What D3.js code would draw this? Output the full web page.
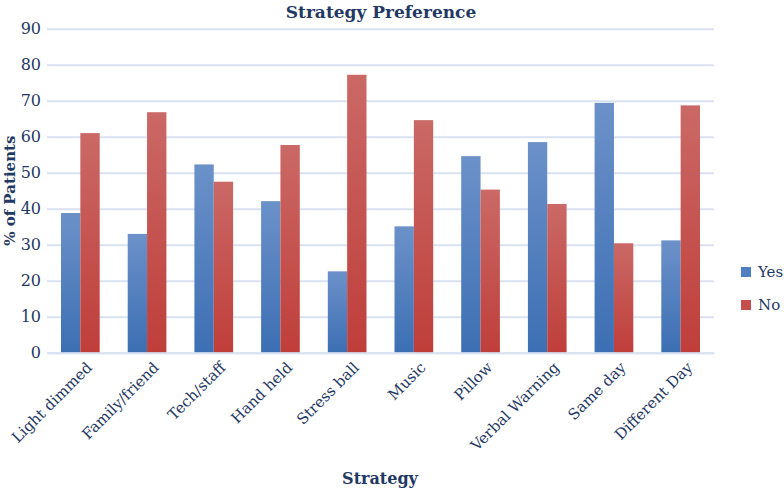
<!DOCTYPE html>
<html><head><meta charset="utf-8">
<script src="https://cdn.jsdelivr.net/npm/d3@7"></script>
<style>body{margin:0;background:#fff;} text{font-family:"DejaVu Serif","Liberation Serif",serif;}</style>
</head><body>
<svg id="c" width="784" height="489"></svg>
<script>
const categories = ["Light dimmed","Family/friend","Tech/staff","Hand held","Stress ball","Music","Pillow","Verbal Warning","Same day","Different Day"];
const yesValues = [38.8, 33.0, 52.3, 42.1, 22.6, 35.1, 54.6, 58.5, 69.4, 31.2];
const noValues  = [61.0, 66.8, 47.5, 57.7, 77.2, 64.6, 45.3, 41.3, 30.4, 68.7];
const seriesNames = ["Yes","No"];
const yTicks = [0,10,20,30,40,50,60,70,80,90];

(function(){
const svg = d3.select("#c");
const txt = "#1f3864";
const pL = 47, pR = 714, pT = 28.7, pB = 352.7;

const x = d3.scaleBand().domain(categories).range([pL, pR]).paddingInner(0.42).paddingOuter(0.21);
const xs = d3.scaleBand().domain(seriesNames).range([0, x.bandwidth()]);
const y = d3.scaleLinear().domain([0, 90]).range([pB, pT]);

const defs = svg.append("defs");
const gY = defs.append("linearGradient").attr("id","gYes").attr("x1",0).attr("y1",0).attr("x2",0).attr("y2",1);
gY.append("stop").attr("offset","0%").attr("stop-color","#6c91c9");
gY.append("stop").attr("offset","100%").attr("stop-color","#3c6fb3");
const gN = defs.append("linearGradient").attr("id","gNo").attr("x1",0).attr("y1",0).attr("x2",0).attr("y2",1);
gN.append("stop").attr("offset","0%").attr("stop-color","#ca6966");
gN.append("stop").attr("offset","100%").attr("stop-color","#bf3e3a");
const fills = {Yes:"url(#gYes)", No:"url(#gNo)"};
const solid = {Yes:"#4f7fc0", No:"#c4504d"};

const yAxis = d3.axisLeft(y).tickValues(yTicks).tickSize(-(pR-pL)).tickPadding(6);
const ga = svg.append("g").attr("transform",`translate(${pL},0)`).call(yAxis);
ga.select(".domain").remove();
ga.selectAll(".tick line").attr("stroke","#d9e2f1").attr("stroke-width",2);
ga.selectAll(".tick text").attr("fill",txt).attr("font-size",16);

const data = categories.map((c,i)=>({c, vals:[{k:"Yes",v:yesValues[i]},{k:"No",v:noValues[i]}]}));
const grp = svg.append("g").selectAll("g").data(data).join("g").attr("transform",d=>`translate(${x(d.c)},0)`);
grp.selectAll("rect").data(d=>d.vals).join("rect")
  .attr("x",d=>xs(d.k)).attr("width",xs.bandwidth())
  .attr("y",d=>y(d.v)).attr("height",d=>y(0)-y(d.v))
  .attr("fill",d=>fills[d.k]);

const xAxis = d3.axisBottom(x).tickSize(0).tickPadding(10);
const gx = svg.append("g").attr("transform",`translate(0,${pB})`).call(xAxis);
gx.select(".domain").attr("stroke","#d9e2f1").attr("stroke-width",2);
gx.selectAll(".tick text").attr("fill",txt).attr("font-size",15)
  .attr("text-anchor","end").attr("dy","0.35em")
  .attr("transform","translate(2,5) rotate(-45)");

svg.append("text").attr("x",381).attr("y",18).attr("text-anchor","middle")
  .attr("font-weight","bold").attr("font-size",17).attr("fill",txt).text("Strategy Preference");
svg.append("text").attr("x",380).attr("y",484).attr("text-anchor","middle")
  .attr("font-weight","bold").attr("font-size",16).attr("fill",txt).text("Strategy");
svg.append("text").attr("transform",`translate(15,${(pT+pB)/2}) rotate(-90)`).attr("text-anchor","middle")
  .attr("font-weight","bold").attr("font-size",15).attr("fill",txt).text("% of Patients");

const lg = svg.append("g").selectAll("g").data(seriesNames).join("g")
  .attr("transform",(d,i)=>`translate(741,${267+i*33})`);
lg.append("rect").attr("width",10).attr("height",10).attr("fill",d=>solid[d]);
lg.append("text").attr("x",17).attr("y",5).attr("dy","0.35em").attr("font-size",15).attr("fill",txt).text(d=>d);
})();
</script>
</body></html>
